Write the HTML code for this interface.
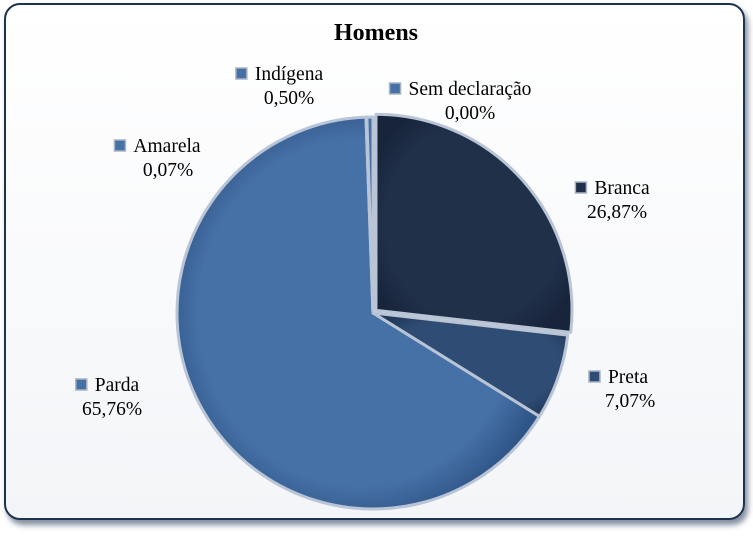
<!DOCTYPE html>
<html><head><meta charset="utf-8"><style>
html,body{margin:0;padding:0;background:#fff;}
body{width:753px;height:536px;overflow:hidden;position:relative;font-family:"Liberation Serif",serif;}
#frame{position:absolute;left:4px;top:3px;width:737px;height:513px;border:2px solid #1e3350;border-radius:16px;background:linear-gradient(#ffffff,#f3f5f8);box-shadow:3px 5px 6px rgba(30,50,80,0.55);}
svg{position:absolute;left:0;top:0;}
.lbl{font-family:"Liberation Serif",serif;font-size:19.5px;fill:#000;}
</style></head><body>
<div id="frame"></div>
<svg width="753" height="536">
<defs>
<radialGradient id="gB" cx="0.5" cy="0.5" r="0.6"><stop offset="0.75" stop-color="#203049"/><stop offset="1" stop-color="#17243a"/></radialGradient>
<radialGradient id="gP" cx="0.5" cy="0.5" r="0.6"><stop offset="0.75" stop-color="#2f4d74"/><stop offset="1" stop-color="#22395a"/></radialGradient>
<radialGradient id="gD" cx="0.5" cy="0.5" r="0.55"><stop offset="0.8" stop-color="#4671a7"/><stop offset="1" stop-color="#2f5486"/></radialGradient>
</defs>
<text x="376" y="40" text-anchor="middle" font-weight="bold" font-size="24" font-family="Liberation Serif">Homens</text>
<g id="slices"></g>
<g id="legend"></g>
</svg>
<script>
const categories=["Branca","Preta","Parda","Amarela","Indígena","Sem declaração"];
const values=[26.87,7.07,65.76,0.07,0.50,0.00];
const valueLabels=["26,87%","7,07%","65,76%","0,07%","0,50%","0,00%"];
const fills=["url(#gB)","url(#gP)","url(#gD)","#4671a7","#4671a7","#4671a7"];
const labelPos=[[622,194,617],[628,383,630],[117,391,112],[167,152,168],[289,80,289],[470,95,470]];
const cx=373,cy=313,r=196;
const total=values.reduce((a,b)=>a+b,0);
const ns="http://www.w3.org/2000/svg";
const sg=document.getElementById('slices'),lg=document.getElementById('legend');
let a=0;
values.forEach((v,i)=>{
  const a0=a, a1=a+v/total*2*Math.PI; a=a1;
  if(v<=0) return;
  let ox=0,oy=0;
  if(i===0){const m=(a0+a1)/2;ox=4*Math.sin(m);oy=-4*Math.cos(m);}
  const x=cx+ox,y=cy+oy;
  const p0=[x+r*Math.sin(a0),y-r*Math.cos(a0)],p1=[x+r*Math.sin(a1),y-r*Math.cos(a1)];
  const large=(a1-a0)>Math.PI?1:0;
  const p=document.createElementNS(ns,'path');
  p.setAttribute('d',`M${x},${y}L${p0[0]},${p0[1]}A${r},${r} 0 ${large} 1 ${p1[0]},${p1[1]}Z`);
  p.setAttribute('fill',fills[i]);p.setAttribute('stroke','#b9c5d6');p.setAttribute('stroke-width','3');p.setAttribute('stroke-linejoin','round');
  
  
  sg.appendChild(p);
});
categories.forEach((c,i)=>{
  const [lx,ly,vx]=labelPos[i];
  const g=document.createElementNS(ns,'g');
  
  
  const t1=document.createElementNS(ns,'text');t1.setAttribute('class','lbl');t1.setAttribute('x',lx);t1.setAttribute('y',ly);t1.setAttribute('text-anchor','middle');
  t1.textContent=c;
  const t2=document.createElementNS(ns,'text');t2.setAttribute('class','lbl');t2.setAttribute('x',vx);t2.setAttribute('y',ly+24);t2.setAttribute('text-anchor','middle');
  t2.textContent=valueLabels[i];
  g.appendChild(t1);g.appendChild(t2);lg.appendChild(g);
  const w=t1.getComputedTextLength();
  const m=document.createElementNS(ns,'rect');m.setAttribute('x',lx-w/2-19);m.setAttribute('y',ly-12);m.setAttribute('width',11);m.setAttribute('height',11);
  m.setAttribute('fill',i===0?'#203049':i===1?'#2f4d74':'#4671a7');m.setAttribute('stroke','#a8b4c4');m.setAttribute('stroke-width','1.5');
  g.appendChild(m);
});
</script>
</body></html>
